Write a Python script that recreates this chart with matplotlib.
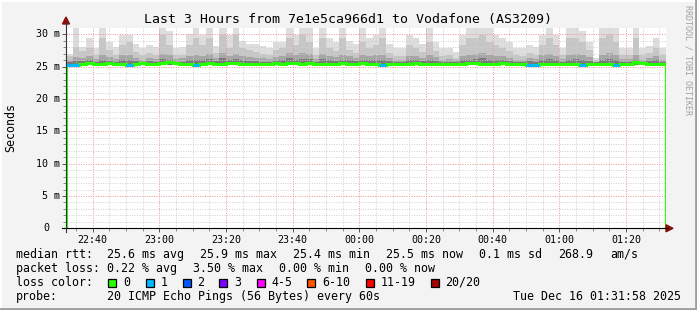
import numpy as np
import matplotlib
matplotlib.use('Agg')
import matplotlib.pyplot as plt
from matplotlib.lines import Line2D
from matplotlib.patches import Polygon, Rectangle
from matplotlib.transforms import blended_transform_factory

# smoke layers and median, one value per 2 minutes starting 22:32
smoke_max = [27.0, 31.0, 28.1, 29.4, 27.9, 31.0, 28.9, 28.0, 29.9, 29.9,
             28.5, 27.9, 28.4, 28.0, 31.0, 30.5, 27.9, 28.0, 30.0, 31.0,
             29.9, 31.0, 28.2, 31.0, 29.9, 31.0, 29.0, 28.6, 28.6, 28.2,
             27.9, 28.9, 28.9, 31.0, 29.9, 31.0, 31.0, 27.9, 31.0, 29.4,
             28.9, 31.0, 29.0, 28.5, 31.0, 29.4, 29.9, 31.0, 28.5, 27.9,
             27.9, 29.9, 29.4, 28.6, 31.0, 28.9, 27.9, 27.9, 27.3, 29.9,
             31.0, 31.0, 31.0, 31.0, 29.9, 29.4, 28.9, 27.9, 27.9, 28.4,
             28.0, 29.9, 31.0, 29.9, 27.9, 31.0, 31.0, 30.6, 28.9, 26.4,
             31.0, 31.0, 31.0, 27.9, 27.9, 31.0, 27.9, 28.2, 29.4, 27.9]
smoke_mid = [26.6, 28.0, 27.4, 27.9, 26.9, 29.4, 27.6, 26.9, 28.4, 28.9,
             27.3, 26.8, 27.2, 26.9, 29.9, 28.4, 26.8, 26.9, 28.4, 29.4,
             28.4, 29.4, 27.2, 29.9, 27.9, 29.9, 27.9, 27.6, 27.3, 27.0,
             26.8, 27.6, 27.9, 29.4, 28.4, 29.9, 28.9, 26.9, 29.4, 27.9,
             27.4, 29.4, 27.6, 27.2, 28.9, 27.9, 28.4, 29.4, 27.2, 26.7,
             26.7, 28.4, 27.9, 27.3, 28.9, 27.4, 26.7, 26.8, 26.4, 28.4,
             29.4, 29.4, 29.9, 28.9, 28.4, 27.9, 27.4, 26.8, 26.7, 27.2,
             26.9, 28.4, 29.4, 28.4, 26.9, 29.4, 29.4, 28.9, 27.6, 26.0,
             29.4, 29.9, 28.9, 26.9, 26.9, 29.4, 26.8, 27.1, 27.9, 26.8]
smoke_dark = [26.0, 26.5, 26.4, 26.6, 26.2, 26.9, 26.5, 26.2, 26.8, 26.9,
              26.4, 26.1, 26.3, 26.2, 27.0, 26.8, 26.2, 26.3, 26.7, 26.9,
              26.6, 27.0, 26.4, 27.2, 26.7, 27.0, 26.6, 26.5, 26.4, 26.3,
              26.2, 26.5, 26.6, 27.2, 26.8, 27.1, 27.0, 26.2, 27.0, 26.6,
              26.5, 26.9, 26.6, 26.3, 26.9, 26.6, 26.8, 26.9, 26.3, 26.1,
              26.1, 26.7, 26.6, 26.4, 26.9, 26.5, 26.1, 26.2, 26.0, 26.7,
              26.9, 27.0, 27.2, 26.9, 26.7, 26.6, 26.4, 26.1, 26.1, 26.4,
              26.2, 26.8, 27.0, 26.7, 26.2, 26.9, 27.0, 26.8, 26.5, 25.8,
              26.9, 27.1, 26.8, 26.2, 26.2, 26.9, 26.1, 26.3, 26.6, 26.1]
smoke_core = [25.8, 25.9, 25.9, 26.0, 25.8, 26.1, 25.9, 25.8, 26.0, 26.1,
              25.9, 25.8, 25.9, 25.8, 26.2, 26.0, 25.8, 25.8, 26.0, 26.1,
              26.0, 26.2, 25.9, 26.3, 26.0, 26.2, 26.0, 25.9, 25.9, 25.8,
              25.8, 25.9, 26.0, 26.3, 26.1, 26.2, 26.2, 25.8, 26.2, 26.0,
              25.9, 26.1, 26.0, 25.9, 26.1, 26.0, 26.0, 26.1, 25.9, 25.8,
              25.8, 26.0, 26.0, 25.9, 26.1, 25.9, 25.8, 25.8, 25.7, 26.0,
              26.1, 26.2, 26.3, 26.1, 26.0, 26.0, 25.9, 25.8, 25.8, 25.9,
              25.8, 26.0, 26.2, 26.0, 25.8, 26.1, 26.2, 26.0, 25.9, 25.7,
              26.1, 26.2, 26.0, 25.8, 25.8, 26.1, 25.8, 25.9, 26.0, 25.8]
smoke_floor = 25.2
median = [25.35, 25.35, 25.5, 25.6, 25.5, 25.5, 25.6, 25.5, 25.5, 25.35,
          25.5, 25.6, 25.5, 25.5, 25.6, 25.7, 25.6, 25.5, 25.5, 25.35,
          25.5, 25.6, 25.5, 25.5, 25.6, 25.6, 25.5, 25.5, 25.5, 25.5,
          25.5, 25.6, 25.5, 25.6, 25.6, 25.5, 25.6, 25.5, 25.5, 25.5,
          25.5, 25.6, 25.5, 25.5, 25.6, 25.5, 25.5, 25.3, 25.4, 25.5,
          25.5, 25.5, 25.6, 25.5, 25.5, 25.5, 25.5, 25.5, 25.5, 25.5,
          25.6, 25.6, 25.5, 25.5, 25.5, 25.6, 25.5, 25.5, 25.5, 25.3,
          25.2, 25.5, 25.5, 25.5, 25.5, 25.5, 25.5, 25.35, 25.5, 25.5,
          25.5, 25.5, 25.35, 25.5, 25.5, 25.8, 25.6, 25.5, 25.5, 25.5]
loss = [1, 1, 0, 0, 0, 0, 0, 0, 0, 1,
        0, 0, 0, 0, 0, 0, 0, 0, 0, 1,
        0, 0, 0, 0, 0, 0, 0, 0, 0, 0,
        0, 0, 0, 0, 0, 0, 0, 0, 0, 0,
        0, 0, 0, 0, 0, 0, 0, 1, 0, 0,
        0, 0, 0, 0, 0, 0, 0, 0, 0, 0,
        0, 0, 0, 0, 0, 0, 0, 0, 0, 1,
        1, 0, 0, 0, 0, 0, 0, 1, 0, 0,
        0, 0, 1, 0, 0, 0, 0, 0, 0, 0]

loss_labels = ['0', '1', '2', '3', '4-5', '6-10', '11-19', '20/20']
loss_colors = ['#26ff00', '#00b8ff', '#0059ff', '#7e00ff', '#ff00ff',
               '#ff5500', '#ff0000', '#a10000']

time_labels = ['22:40', '23:00', '23:20', '23:40', '00:00', '00:20',
               '00:40', '01:00', '01:20']

W, H = 697, 310
mono = 'DejaVu Sans Mono'


def fp(x, y):
    # pixel position -> figure fraction
    return x / W, 1 - y / H


fig = plt.figure(figsize=(W / 100, H / 100), dpi=100, facecolor='#f3f3f3')
ax = fig.add_axes([66 / W, 1 - 228.3 / H, 600 / W, (228.3 - 27.7) / H])
ax.set_facecolor('white')

edges = np.arange(len(smoke_max) + 1) * 2.0
ax.stairs(smoke_max, edges, baseline=smoke_floor, fill=True, color='#dddddd', lw=0)
ax.stairs(smoke_mid, edges, baseline=smoke_floor, fill=True, color='#c6c6c6', lw=0)
ax.stairs(smoke_dark, edges, baseline=smoke_floor, fill=True, color='#a6a6a6', lw=0)
ax.stairs(smoke_core, edges, baseline=smoke_floor, fill=True, color='#7a7a7a', lw=0)

ax.stairs(median, edges, color=loss_colors[0], lw=2.2, zorder=3)
for i, l in enumerate(loss):
    if l > 0:
        ax.hlines(median[i], edges[i], edges[i + 1], colors=loss_colors[l], lw=2.2, zorder=3.1)

ax.set_xlim(0, 180)
ax.set_ylim(0, 31.05)

ax.set_xticks(np.arange(8, 180, 20))
ax.set_xticklabels(time_labels, family=mono, fontsize=7.2)
ax.set_xticks(np.arange(3, 180, 5), minor=True)
ax.set_yticks(np.arange(0, 31, 5))
ax.set_yticklabels([])
ax.set_yticks(np.arange(0, 31, 1), minor=True)
ax.tick_params(which='major', length=3, width=0.7, color='#555555', pad=1.5)
ax.tick_params(which='minor', length=2, width=0.7, color='#888888')

ax.grid(which='minor', color='#cfcfcf', lw=0.7, ls=(0, (1, 1.5)))
ax.grid(which='major', color='#f09090', lw=0.7, ls=(0, (1, 1.5)))
ax.set_axisbelow(False)
for s in ax.spines.values():
    s.set_visible(False)

# y tick labels
tr = blended_transform_factory(fig.transFigure, ax.transData)
for v in range(5, 31, 5):
    ax.text(60 / W, v, f'{v} m', transform=tr, ha='right', va='center',
            family=mono, fontsize=7.2)
ax.text(43 / W, 0, '0', transform=tr, ha='left', va='center', family=mono, fontsize=7.2)

# axis lines with arrows
fig.add_artist(Line2D([fp(62, 0)[0], fp(668, 0)[0]], [fp(0, 228.3)[1]] * 2,
                      color='black', lw=0.8))
fig.add_artist(Line2D([fp(66, 0)[0]] * 2, [fp(0, 232)[1], fp(0, 22)[1]],
                      color='#333333', lw=0.8))
fig.add_artist(Polygon([fp(673, 228.3), fp(666, 224.8), fp(666, 231.8)],
                       closed=True, color='#8b1010', transform=fig.transFigure))
fig.add_artist(Polygon([fp(66, 17), fp(62.5, 24), fp(69.5, 24)],
                       closed=True, color='#8b1010', transform=fig.transFigure))

fig.text(*fp(348, 19), 'Last 3 Hours from 7e1e5ca966d1 to Vodafone (AS3209)',
         ha='center', va='center', family=mono, fontsize=9.5)
fig.text(*fp(11, 128), 'Seconds', rotation=90, ha='center', va='center',
         family=mono, fontsize=8.4)
fig.text(*fp(688, 5), 'RRDTOOL / TOBI OETIKER', rotation=270, ha='center', va='top',
         family=mono, fontsize=6, color='#a0a0a0')

# legend lines
fs = 8.4
row1 = [(16, 'median rtt:'), (107.3, '25.6 ms avg'), (200, '25.9 ms max'),
        (293.3, '25.4 ms min'), (386, '25.5 ms now'), (479.3, '0.1 ms sd'),
        (558.3, '268.9'), (610, 'am/s')]
row2 = [(16, 'packet loss:'), (107.3, '0.22 % avg'), (193.3, '3.50 % max'),
        (279.3, '0.00 % min'), (365.3, '0.00 % now')]
for x, s in row1:
    fig.text(*fp(x, 254.3), s, ha='left', va='center', family=mono, fontsize=fs)
for x, s in row2:
    fig.text(*fp(x, 268.3), s, ha='left', va='center', family=mono, fontsize=fs)

fig.text(*fp(16, 282.3), 'loss color:', ha='left', va='center', family=mono, fontsize=fs)
box_x = [108.3, 145.7, 182.7, 219.3, 256.7, 307.3, 365.7, 430.7]
for bx, lab, col in zip(box_x, loss_labels, loss_colors):
    x0, y0 = fp(bx, 286.5)
    fig.add_artist(Rectangle((x0, y0), 8 / W, 8 / H, transform=fig.transFigure,
                             facecolor=col, edgecolor='black', lw=0.9))
    fig.text(*fp(bx + 14.5, 282.3), lab, ha='left', va='center', family=mono, fontsize=fs)

fig.text(*fp(16, 296.3), 'probe:', ha='left', va='center', family=mono, fontsize=fs)
fig.text(*fp(107.3, 296.3), '20 ICMP Echo Pings (56 Bytes) every 60s',
         ha='left', va='center', family=mono, fontsize=fs)
fig.text(*fp(513.3, 296.3), 'Tue Dec 16 01:31:58 2025', ha='left', va='center',
         family=mono, fontsize=fs)

# 3d frame
fig.add_artist(Line2D([0, 1], [1 - 1 / H] * 2, color='white', lw=1.5))
fig.add_artist(Line2D([1 / W] * 2, [0, 1], color='white', lw=1.5))
fig.add_artist(Line2D([0, 1], [1.5 / H] * 2, color='#9e9e9e', lw=2))
fig.add_artist(Line2D([1 - 1.5 / W] * 2, [0, 1], color='#9e9e9e', lw=2))

fig.savefig('out.png', dpi=100, facecolor=fig.get_facecolor())
